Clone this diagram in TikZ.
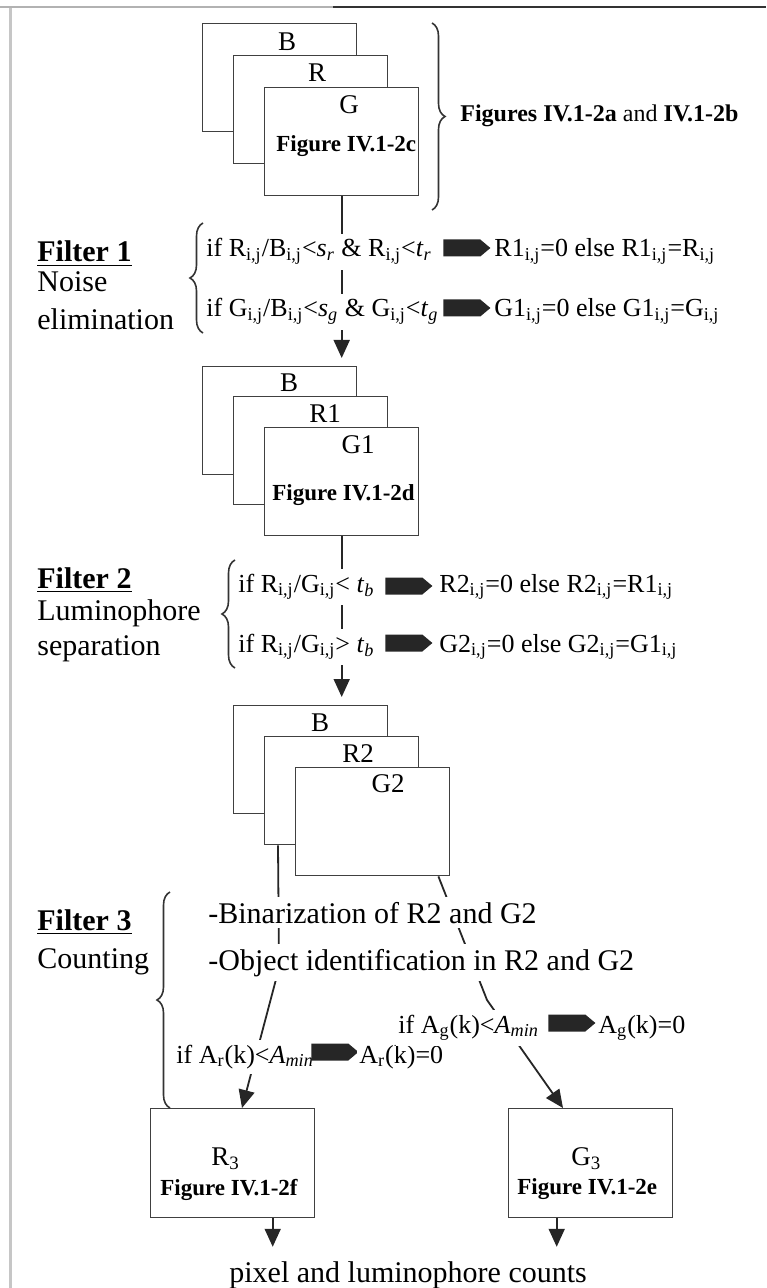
\documentclass[tikz,border=0pt]{standalone}
\usepackage{fontspec}
\setmainfont{Liberation Serif}
\usetikzlibrary{arrows.meta,shapes.symbols,decorations.pathreplacing}

\tikzset{
  imgbox/.style={draw=black!75, line width=0.7pt, fill=white, anchor=north west,
    inner sep=0pt, minimum width=77pt, minimum height=54pt},
  outbox/.style={imgbox, minimum width=82pt, minimum height=54.5pt},
  chan/.style={font=\fontsize{13.5}{16}\selectfont, inner sep=0pt},
  cond/.style={font=\fontsize{13}{16}\selectfont, fill=white, inner xsep=1pt, inner ysep=2.5pt, anchor=base west},
  big/.style={font=\fontsize{15}{18}\selectfont, inner sep=0pt, anchor=base west},
  bigrow/.style={big, fill=white, inner xsep=1pt, inner ysep=2.5pt},
  figref/.style={font=\fontsize{11.5}{14}\selectfont\bfseries, inner sep=0pt, anchor=base west},
  blockarrow/.style={signal, signal to=east, signal pointer angle=80, fill=black!85,
    inner sep=0pt, minimum width=23.5pt, minimum height=8.5pt, anchor=west},
  flow/.style={draw=black!85, line width=0.9pt, -{Triangle[length=9pt,width=8pt]}},
  curly/.style={draw=black!80, line width=0.8pt, decorate, decoration={brace, amplitude=6.5pt}},
}

\begin{document}
\begin{tikzpicture}[x=0.5pt, y=-0.5pt]
  \useasboundingbox (0,0) rectangle (766,1288);
  % frame
  \draw[gray!45, line width=1.5pt] (10,1288) -- (10,7);
  \draw[gray!60, line width=1pt] (0,7) -- (333,7);
  \draw[black!80, line width=1pt] (333,7) -- (766,7);

  % input images
  \node[imgbox] (inB) at (202,23) {};
  \node[imgbox] (inR) at (233,55) {};
  \node[imgbox] (inG) at (264,87) {};
  \node[chan] (inBl) at (287,42) {B};
  \node[chan] (inRl) at (317,73) {R};
  \node[chan] (inGl) at (349,105) {G};
  \node[figref] (inFig) at (276,152) {Figure IV.1-2c};
  \draw[curly] (432,23) -- (432,210);
  \node[font=\fontsize{12}{14}\selectfont, inner sep=0pt, anchor=base west] (inRef) at (460,122)
    {\textbf{Figures IV.1-2a} and \textbf{IV.1-2b}};

  % after noise elimination
  \node[imgbox] (nB) at (202,366) {};
  \node[imgbox] (nR) at (233,396) {};
  \node[imgbox] (nG) at (264,427) {};
  \node[chan] (nBl) at (289,383) {B};
  \node[chan] (nRl) at (325,414) {R1};
  \node[chan] (nGl) at (358,445) {G1};
  \node[figref] (nFig) at (272,500) {Figure IV.1-2d};

  % after separation
  \node[imgbox] (sB) at (233,705) {};
  \node[imgbox] (sR) at (264,736) {};
  \node[imgbox] (sG) at (295,767) {};
  \node[chan] (sBl) at (320,723) {B};
  \node[chan] (sRl) at (358,754) {R2};
  \node[chan] (sGl) at (388,784) {G2};

  % outputs
  \node[outbox] (outR) at (150,1108) {};
  \node[outbox] (outG) at (508,1108) {};
  \node[chan, anchor=base west] (outRl) at (211,1165) {R\textsubscript{3}};
  \node[chan, anchor=base west] (outGl) at (571,1165) {G\textsubscript{3}};
  \node[figref] (outRfig) at (160,1195) {Figure IV.1-2f};
  \node[figref] (outGfig) at (517,1194) {Figure IV.1-2e};
  \node[big] (counts) at (229,1282) {pixel and luminophore counts};

  % connectors
  \coordinate (lbend) at (279,968);
  \coordinate (rbend) at (487,1000);
  \draw[flow, shorten >=4pt] (inG.south) -- (inG.south |- nB.north);
  \draw[flow, shorten >=4pt] (nG.south) -- (nG.south |- sB.north);
  \draw[flow] ([xshift=7pt]sR.south west) -- (lbend) -- ([xshift=46pt]outR.north west);
  \draw[flow] ([xshift=-6pt]sG.south east) -- (rbend) -- ([xshift=27.5pt]outG.north west);
  \draw[flow, shorten >=7pt] ([xshift=20pt]outR.south) -- ([xshift=20pt]outR.south |- counts.north);
  \draw[flow, shorten >=7pt] ([xshift=-17pt]outG.south) -- ([xshift=-17pt]outG.south |- counts.north);

  % Filter 1
  \node[big] (f1) at (37,262) {\underline{\textbf{Filter 1}}};
  \node[big] (f1a) at (37,292) {Noise};
  \node[big] (f1b) at (37,330) {elimination};
  \draw[curly] (203,333) -- (203,223);
  \node[cond] (c1r) at (204,257) {if R\textsubscript{i,j}/B\textsubscript{i,j}<\textit{s}\textsubscript{\textit{r}} \& R\textsubscript{i,j}<\textit{t}\textsubscript{\textit{r}}};
  \node[blockarrow] (a1r) at (443,248) {};
  \node[cond] (r1r) at (492,257) {R1\textsubscript{i,j}=0 else R1\textsubscript{i,j}=R\textsubscript{i,j}};
  \node[cond] (c1g) at (204,317) {if G\textsubscript{i,j}/B\textsubscript{i,j}<\textit{s}\textsubscript{\textit{g}} \& G\textsubscript{i,j}<\textit{t}\textsubscript{\textit{g}}};
  \node[blockarrow] (a1g) at (443,308) {};
  \node[cond] (r1g) at (492,317) {G1\textsubscript{i,j}=0 else G1\textsubscript{i,j}=G\textsubscript{i,j}};

  % Filter 2
  \node[big] (f2) at (37,588) {\underline{\textbf{Filter 2}}};
  \node[big] (f2a) at (37,620) {Luminophore};
  \node[big] (f2b) at (37,655) {separation};
  \draw[curly] (235,668) -- (235,560);
  \node[cond] (c2r) at (236,592) {if R\textsubscript{i,j}/G\textsubscript{i,j}< \textit{t}\textsubscript{\textit{b}}};
  \node[blockarrow] (a2r) at (385,586) {};
  \node[cond] (r2r) at (437,592) {R2\textsubscript{i,j}=0 else R2\textsubscript{i,j}=R1\textsubscript{i,j}};
  \node[cond] (c2g) at (236,652) {if R\textsubscript{i,j}/G\textsubscript{i,j}> \textit{t}\textsubscript{\textit{b}}};
  \node[blockarrow] (a2g) at (385,643) {};
  \node[cond] (r2g) at (437,652) {G2\textsubscript{i,j}=0 else G2\textsubscript{i,j}=G1\textsubscript{i,j}};

  % Filter 3
  \node[big] (f3) at (37,930) {\underline{\textbf{Filter 3}}};
  \node[big] (f3a) at (37,968) {Counting};
  \draw[curly] (170,1108) -- (170,892);
  \node[bigrow] (bin) at (206,923) {-Binarization of R2 and G2};
  \node[bigrow] (obj) at (206,970) {-Object identification in R2 and G2};
  \node[cond] (c3r) at (174,1063) {if A\textsubscript{r}(k)<\textit{A}\textsubscript{\textit{min}}};
  \node[blockarrow] (a3r) at (311,1052) {};
  \node[cond] (r3r) at (357,1063) {A\textsubscript{r}(k)=0};
  \node[cond] (c3g) at (396,1033) {if A\textsubscript{g}(k)<\textit{A}\textsubscript{\textit{min}}};
  \node[blockarrow] (a3g) at (548,1023) {};
  \node[cond] (r3g) at (596,1033) {A\textsubscript{g}(k)=0};
\end{tikzpicture}
\end{document}
